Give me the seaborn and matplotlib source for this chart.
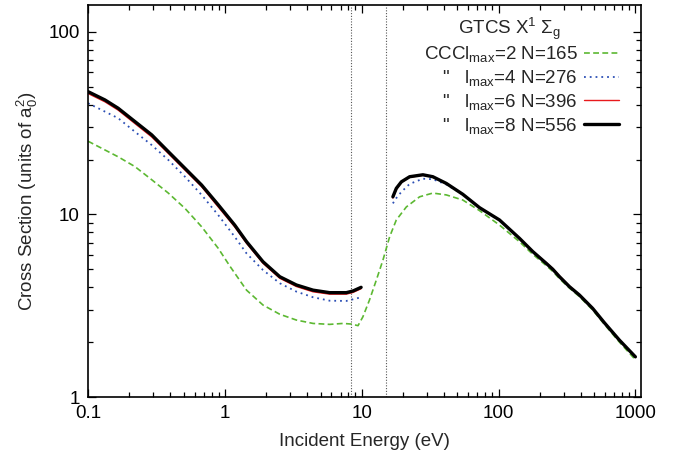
import pandas as pd
import matplotlib
matplotlib.use("Agg")
import matplotlib.pyplot as plt
import seaborn as sns
from matplotlib.lines import Line2D
from matplotlib.ticker import LogLocator, FuncFormatter, NullFormatter

# Energias (eV)
energy_low = [0.1, 0.133, 0.166, 0.22, 0.292, 0.386, 0.511, 0.676, 0.894, 1.18,
              1.44, 1.90, 2.52, 3.33, 4.41, 5.83, 7.72, 8.64, 9.9]
energy_high = [16.9, 17.9, 19.5, 22.4, 28.0, 33.1, 41.5, 54.8, 72.6, 101.6, 142,
               178, 223, 249, 279, 330, 390, 487, 594, 764, 1000]
energy_l2 = [0.1, 0.166, 0.22, 0.292, 0.386, 0.511, 0.676, 0.894, 1.09, 1.44,
             1.90, 2.52, 3.33, 4.41, 5.83, 7.31, 8.41, 9.40, 10.2, 11.4, 12.8,
             14.3, 16.0, 17.9, 21.2, 26.5, 33.1, 41.5, 54.8, 72.6, 101.6, 142,
             178, 223, 249, 279, 330, 390, 487, 594, 764, 1000]

# Secciones eficaces (a0^2)
lmax2 = [25.2, 20.7, 18.3, 15.5, 13.1, 10.8, 8.57, 6.53, 5.2, 3.85, 3.19, 2.84,
         2.64, 2.53, 2.50, 2.53, 2.51, 2.46, 2.75, 3.40, 4.38, 5.63, 7.55, 9.33,
         11.0, 12.5, 13.1, 12.8, 12.0, 10.5, 8.75, 7.1, 6.05, 5.25, 4.88, 4.45,
         3.95, 3.55, 3.0, 2.5, 2.0, 1.6]
lmax4_low = [40.7, 36.6, 33.7, 28.4, 24.0, 19.9, 16.1, 12.8, 9.93, 7.55, 6.12,
             4.96, 4.20, 3.78, 3.52, 3.37, 3.36, 3.43, 3.52]
lmax4_high = [11.5, 12.3, 13.3, 14.7, 15.7, 15.6, 14.6, 12.9, 10.9, 9.33, 7.41,
              6.26, 5.40, 5.01, 4.56, 4.02, 3.62, 3.06, 2.55, 2.05, 1.66]
lmax6_low = [46.0, 41.4, 37.3, 31.5, 26.6, 21.6, 17.5, 14.2, 11.0, 8.55, 6.95,
             5.40, 4.47, 4.03, 3.77, 3.66, 3.66, 3.74, 3.92]
lmax6_high = [12.3, 13.7, 15.0, 16.0, 16.4, 16.1, 14.8, 12.9, 10.9, 9.33, 7.41,
              6.28, 5.44, 5.06, 4.60, 4.05, 3.63, 3.06, 2.55, 2.05, 1.66]
lmax8_low = [47.1, 42.4, 38.2, 32.3, 27.3, 22.1, 17.9, 14.5, 11.3, 8.75, 7.10,
             5.51, 4.56, 4.11, 3.85, 3.73, 3.73, 3.81, 3.99]
lmax8_high = [12.5, 13.9, 15.1, 16.1, 16.5, 16.1, 14.8, 12.9, 10.9, 9.33, 7.41,
              6.26, 5.40, 5.01, 4.56, 4.02, 3.62, 3.06, 2.55, 2.05, 1.66]

threshold_lines = [8.4, 15.1]

order = ["l2", "l4", "l6", "l8"]
labels = {
    "l2": "CCCl$_\\mathrm{max}$=2 N=165",
    "l4": "\"   l$_\\mathrm{max}$=4 N=276",
    "l6": "\"   l$_\\mathrm{max}$=6 N=396",
    "l8": "\"   l$_\\mathrm{max}$=8 N=556",
}
legend_title = "GTCS X$^1$ Σ$_\\mathrm{g}$"

# Tabla larga para seaborn (dos tramos por curva, salvo l2)
rows = []
for e, s in zip(energy_l2, lmax2):
    rows.append(("l2", "a", e, s))
for name, low, high in [("l4", lmax4_low, lmax4_high),
                        ("l6", lmax6_low, lmax6_high),
                        ("l8", lmax8_low, lmax8_high)]:
    for e, s in zip(energy_low, low):
        rows.append((name, "a", e, s))
    for e, s in zip(energy_high, high):
        rows.append((name, "b", e, s))
df = pd.DataFrame(rows, columns=["model", "segment", "energy", "sigma"])

sns.set_style("ticks", {"xtick.direction": "in", "ytick.direction": "in"})
plt.rcParams["font.family"] = ["Liberation Sans", "DejaVu Sans"]
plt.rcParams["mathtext.fontset"] = "custom"
plt.rcParams["mathtext.rm"] = "Liberation Sans"
plt.rcParams["mathtext.it"] = "Liberation Sans:italic"

palette = {"l2": "#5cb832", "l4": "#2c4fb5", "l6": "#e8191c", "l8": "#000000"}
dashes = {"l2": (3.5, 2), "l4": (1, 2.2), "l6": "", "l8": ""}
widths = {"l2": 1.2, "l4": 1.3, "l6": 1.0, "l8": 2.4}
FS = 13.5

fig = plt.figure(figsize=(6.84, 4.61), dpi=100)
ax = fig.add_axes([0.1287, 0.1388, 0.8085, 0.851])

for x in threshold_lines:
    ax.axvline(x, color="#555555", linestyle=(0, (1, 1.5)), linewidth=0.8, zorder=1)

sns.lineplot(data=df, x="energy", y="sigma", hue="model", style="model",
             size="model", units="segment", estimator=None, sort=False,
             hue_order=order, palette=palette, dashes=dashes, sizes=widths,
             legend=False, ax=ax)

ax.set_xscale("log")
ax.set_yscale("log")
ax.set_xlim(0.1, 1100)
ax.set_ylim(1, 141)

fmt = FuncFormatter(lambda v, _: f"{v:g}")
ax.xaxis.set_major_locator(LogLocator(base=10, numticks=10))
ax.xaxis.set_minor_locator(LogLocator(base=10, subs=range(2, 10), numticks=50))
ax.yaxis.set_major_locator(LogLocator(base=10, numticks=10))
ax.yaxis.set_minor_locator(LogLocator(base=10, subs=range(2, 10), numticks=50))
ax.xaxis.set_major_formatter(fmt)
ax.yaxis.set_major_formatter(fmt)
ax.xaxis.set_minor_formatter(NullFormatter())
ax.yaxis.set_minor_formatter(NullFormatter())
ax.tick_params(which="both", top=True, right=True, direction="in",
               labelsize=FS, width=0.9, colors="black")
ax.tick_params(which="major", length=6, pad=6)
ax.tick_params(which="minor", length=3.5)
for sp in ax.spines.values():
    sp.set_linewidth(1.2)
    sp.set_color("black")

ax.set_xlabel("Incident Energy (eV)", fontsize=FS, labelpad=8)
ax.set_ylabel("Cross Section (units of a$_0^2$)", fontsize=FS, labelpad=6)

handles = []
for k in order:
    if dashes[k]:
        h = Line2D([], [], color=palette[k], linewidth=widths[k], dashes=dashes[k])
    else:
        h = Line2D([], [], color=palette[k], linewidth=widths[k], linestyle="-")
    handles.append(h)
ax.legend(handles, [labels[k] for k in order], loc="upper right",
          bbox_to_anchor=(0.991, 0.942), frameon=False, markerfirst=False,
          fontsize=FS, handlelength=1.9, handletextpad=0.32, labelspacing=0.2)
ax.text(0.762, 0.938, legend_title, transform=ax.transAxes, fontsize=FS,
        ha="center", va="center")

fig.savefig("out.png", dpi=100)
